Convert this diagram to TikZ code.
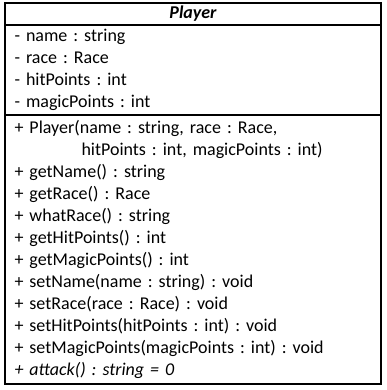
\documentclass[tikz,border=0pt]{standalone}
\usepackage{fontspec}
\setmainfont{Carlito}
\usepackage{tikz}
\usetikzlibrary{positioning}
\tikzstyle{compartment} = [rectangle, draw=black, line width=1.2pt, minimum width=376pt, inner xsep=9.5pt, inner ysep=0pt, outer sep=0pt, text width=357pt, align=left, font=\fontsize{18}{22}\selectfont]

\frenchspacing
\begin{document}
\begin{tikzpicture}
\useasboundingbox (0,0) rectangle (387pt,-390pt);
\node (title) [compartment, minimum height=22pt, align=center, anchor=north, font=\fontsize{18}{22}\selectfont\bfseries\itshape] at (193pt,-3pt) {Player};
\node (attrs) [compartment, minimum height=90pt, below=0pt of title] {- name : string\\
- race : Race\\
- hitPoints : int\\
- magicPoints : int};
\node (ops) [compartment, minimum height=269pt, below=0pt of attrs] {+ Player(name : string, race : Race,\\
\hspace*{67pt}hitPoints : int, magicPoints : int)\\
+ getName() : string\\
+ getRace() : Race\\
+ whatRace() : string\\
+ getHitPoints() : int\\
+ getMagicPoints() : int\\
+ setName(name : string) : void\\
+ setRace(race : Race) : void\\
+ setHitPoints(hitPoints : int) : void\\
+ setMagicPoints(magicPoints : int) : void\\
\textit{+ attack() : string = 0}};
\end{tikzpicture}
\end{document}
